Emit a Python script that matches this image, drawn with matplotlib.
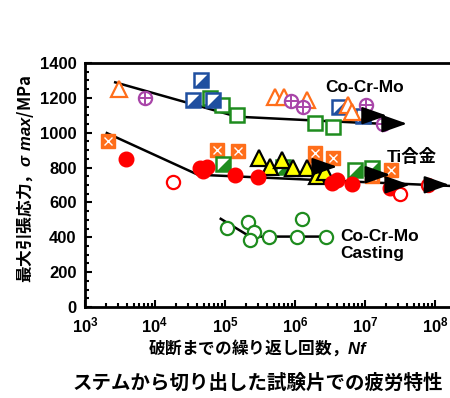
import numpy as np
import matplotlib
matplotlib.use('Agg')
import matplotlib.pyplot as plt
from matplotlib.ticker import MultipleLocator, LogLocator, NullFormatter

plt.rcParams['font.family'] = ['Liberation Sans', 'Noto Sans CJK JP']
plt.rcParams['mathtext.fontset'] = 'custom'
plt.rcParams['mathtext.it'] = 'Liberation Sans:italic:bold'
plt.rcParams['mathtext.rm'] = 'Liberation Sans:bold'
plt.rcParams['mathtext.bf'] = 'Liberation Sans:bold'

# --- Co-Cr-Mo (wrought) ---
cocr_tri_n = [3.1e3, 5.2e5, 7.0e5, 1.47e6, 5.8e6, 6.6e6]
cocr_tri_s = [1250, 1205, 1205, 1185, 1160, 1118]
cocr_oplus_n = [7.2e3, 8.7e5, 1.32e6, 1.05e7, 1.82e7]
cocr_oplus_s = [1200, 1180, 1150, 1160, 1052]
cocr_half_n = [4.6e4, 3.5e4, 6.7e4, 4.2e6, 9.5e6]
cocr_half_s = [1300, 1185, 1190, 1150, 1098]
cocr_sq_n = [6.1e4, 9.0e4, 1.47e5, 1.93e6, 3.5e6]
cocr_sq_s = [1200, 1160, 1103, 1056, 1033]

# --- Ti alloys ---
ti_box_n = [2.15e3, 7.6e4, 1.55e5, 1.93e6, 1.93e6, 3.46e6, 1.25e7, 2.33e7]
ti_box_s = [950, 902, 893, 883, 806, 855, 749, 784]
ti_half_n = [9.5e4, 6.8e5, 7.2e6, 1.25e7]
ti_half_s = [822, 803, 787, 797]
ti_tri_n = [3.1e5, 4.4e5, 6.5e5, 9.3e5, 1.47e6, 2.08e6, 2.7e6]
ti_tri_s = [855, 806, 845, 797, 797, 753, 776]
ti_dot_n = [3.9e3, 4.4e4, 5.5e4, 4.8e4, 1.39e5, 2.99e5, 3.34e6, 3.94e6, 6.46e6, 2.28e7]
ti_dot_s = [851, 797, 803, 780, 759, 745, 711, 730, 707, 685]
ti_ring_n = [1.83e4, 3.16e7, 8.0e7]
ti_ring_s = [720, 649, 701]

# --- Co-Cr-Mo casting ---
cast_n = [1.08e5, 2.15e5, 2.6e5, 2.27e5, 4.26e5, 1.06e6, 1.24e6, 2.77e6]
cast_s = [451, 490, 433, 385, 404, 404, 506, 404]

# trend lines
cocr_fit_n = [2.7e3, 1.48e5, 2.0e7]
cocr_fit_s = [1289, 1092, 1050]
ti_fit_n = [2.05e3, 4.1e4, 1.6e8]
ti_fit_s = [998, 759, 695]
cast_fit_n = [8.7e4, 2.27e5, 2.83e6]
cast_fit_s = [506, 404, 404]

# run-out arrows: (start N, end N, stress)
runouts = [(9.5e6, 2.06e7, 1098), (1.82e7, 3.98e7, 1052),
           (1.93e6, 4.0e6, 805), (1.25e7, 2.3e7, 759),
           (2.28e7, 4.4e7, 701), (8.0e7, 1.6e8, 701)]

orange = '#FF6E1A'
purple = '#A845A8'
blue = '#1F4FA0'
green = '#1E8C1E'
red = '#FF0000'

# lower-right triangle for the half-filled squares
half_tri = [(1, -1), (1, 1), (-1, -1), (1, -1)]

fig = plt.figure(figsize=(4.5, 3.98), dpi=100)
ax = fig.add_axes([85/450, 91/398, 6*70/450, 244/398])

ax.plot(cocr_fit_n, cocr_fit_s, 'k-', lw=1.8, zorder=2)
ax.plot(ti_fit_n, ti_fit_s, 'k-', lw=1.8, zorder=2)
ax.plot(cast_fit_n, cast_fit_s, 'k-', lw=1.8, zorder=2)

ms = 10
ax.plot(cocr_sq_n, cocr_sq_s, 's', ms=ms, mfc='white', mec=green, mew=1.8, zorder=3)
ax.plot(cocr_half_n, cocr_half_s, 's', ms=ms, mfc='white', mec=blue, mew=1.8, zorder=3)
ax.plot(cocr_half_n, cocr_half_s, marker=half_tri, ls='none', ms=ms, mfc=blue, mec=blue, mew=0, zorder=3)
ax.plot(cocr_tri_n, cocr_tri_s, '^', ms=12, mfc='white', mec=orange, mew=1.6, zorder=3)
ax.plot(cocr_oplus_n, cocr_oplus_s, 'o', ms=9.5, mfc='white', mec=purple, mew=1.6, zorder=3)
ax.plot(cocr_oplus_n, cocr_oplus_s, '+', ms=8, mec=purple, mew=1.4, zorder=3)

ax.plot(ti_box_n, ti_box_s, 's', ms=ms, mfc=orange, mec=orange, mew=1.0, zorder=3)
ax.plot(ti_box_n, ti_box_s, 'x', ms=5.5, mec='white', mew=1.0, zorder=3)
ax.plot(ti_half_n, ti_half_s, 's', ms=ms, mfc='white', mec=green, mew=1.8, zorder=3)
ax.plot(ti_half_n, ti_half_s, marker=half_tri, ls='none', ms=ms, mfc=green, mec=green, mew=0, zorder=3)
ax.plot(ti_tri_n, ti_tri_s, '^', ms=11, mfc='#FFFF00', mec='black', mew=1.6, zorder=3)
ax.plot(ti_dot_n, ti_dot_s, 'o', ms=10.5, mfc=red, mec=red, zorder=3)
ax.plot(ti_ring_n, ti_ring_s, 'o', ms=9.5, mfc='white', mec=red, mew=1.6, zorder=3)

ax.plot(cast_n, cast_s, 'o', ms=9.5, mfc='white', mec=green, mew=1.6, zorder=3)

for n0, n1, s in runouts:
    ax.annotate('', xy=(n1, s), xytext=(n0, s),
                arrowprops=dict(arrowstyle='-|>,head_length=0.85,head_width=0.3',
                                mutation_scale=18, color='black', lw=1.6,
                                shrinkA=0, shrinkB=0), zorder=4)

ax.text(1.0e7, 1259, 'Co-Cr-Mo', fontsize=12.5, fontweight='bold',
        ha='center', va='center')
ax.text(4.7e7, 862, 'Ti合金', fontsize=12.5, fontweight='bold',
        ha='center', va='center')
ax.text(4.5e6, 356, 'Co-Cr-Mo\nCasting', fontsize=12.5, fontweight='bold',
        ha='left', va='center', linespacing=1.15)

ax.set_xscale('log')
ax.set_xlim(1e3, 1e9)
ax.set_ylim(0, 1400)
ax.set_xticks([1e3, 1e4, 1e5, 1e6, 1e7, 1e8])
ax.xaxis.set_minor_locator(LogLocator(base=10, subs=np.arange(2, 10)))
ax.xaxis.set_minor_formatter(NullFormatter())
ax.yaxis.set_major_locator(MultipleLocator(200))
ax.yaxis.set_minor_locator(MultipleLocator(50))
ax.tick_params(which='both', direction='in', width=1.5, top=False, right=False)
ax.tick_params(which='major', length=5, labelsize=12)
ax.tick_params(axis='y', which='major', pad=6)
ax.tick_params(axis='x', which='major', pad=6)
ax.tick_params(which='minor', length=3)
for lab in ax.get_xticklabels() + ax.get_yticklabels():
    lab.set_fontweight('bold')
for sp in ax.spines.values():
    sp.set_linewidth(2)
ax.spines['right'].set_visible(False)

fig.text(26/450, 1 - 179/398, '最大引張応力，$\\sigma\\ max$/MPa', rotation=90,
         ha='center', va='center', fontsize=12, fontweight='bold',
         family='Noto Sans CJK JP')
fig.text(258/450, 1 - 348/398, '破断までの繰り返し回数，$Nf$',
         ha='center', va='center', fontsize=12, fontweight='bold',
         family='Noto Sans CJK JP')
fig.text(73/450, 1 - 383/398, 'ステムから切り出した試験片での疲労特性',
         ha='left', va='center', fontsize=14, fontweight='bold',
         family='Noto Sans CJK JP')

fig.savefig('out.png', dpi=100)
